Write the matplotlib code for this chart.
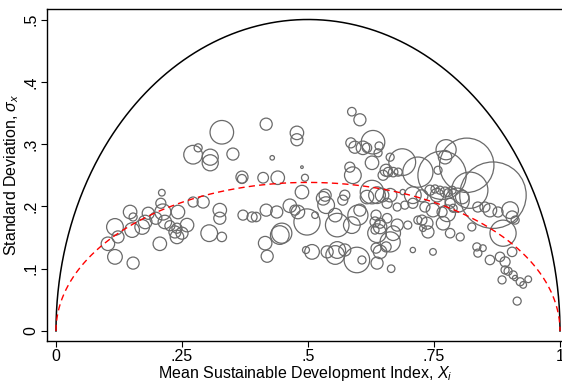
import numpy as np
import matplotlib
matplotlib.use("Agg")
import matplotlib.pyplot as plt

plt.rcParams['font.family'] = ['Liberation Sans', 'DejaVu Sans']
plt.rcParams['mathtext.fontset'] = 'custom'
plt.rcParams['mathtext.rm'] = 'Liberation Sans'
plt.rcParams['mathtext.it'] = 'Liberation Sans:italic'

# mean SDI, standard deviation and population weight for each unit
sdi = [0.103, 0.117, 0.123, 0.117, 0.153, 0.147, 0.153, 0.151, 0.171, 0.177,
       0.183, 0.198, 0.210, 0.208, 0.212, 0.216, 0.206, 0.236, 0.240, 0.240,
       0.242, 0.260, 0.250, 0.226, 0.272, 0.282, 0.306, 0.306, 0.329, 0.351,
       0.369, 0.369, 0.272, 0.292, 0.325, 0.325, 0.304, 0.329, 0.417, 0.478,
       0.478, 0.429, 0.488, 0.411, 0.440, 0.494, 0.488, 0.371, 0.389, 0.397,
       0.417, 0.438, 0.448, 0.444, 0.415, 0.419, 0.464, 0.480, 0.474, 0.498,
       0.496, 0.514, 0.536, 0.554, 0.558, 0.587, 0.599, 0.603, 0.508, 0.538,
       0.558, 0.554, 0.573, 0.597, 0.607, 0.637, 0.665, 0.534, 0.573, 0.569,
       0.530, 0.587, 0.603, 0.629, 0.585, 0.593, 0.609, 0.617, 0.641, 0.627,
       0.663, 0.687, 0.718, 0.583, 0.589, 0.655, 0.659, 0.669, 0.679, 0.649,
       0.627, 0.637, 0.647, 0.663, 0.688, 0.708, 0.726, 0.637, 0.643, 0.663,
       0.655, 0.669, 0.633, 0.657, 0.677, 0.698, 0.708, 0.718, 0.728, 0.657,
       0.677, 0.692, 0.708, 0.617, 0.639, 0.774, 0.772, 0.758, 0.766, 0.815,
       0.867, 0.887, 0.821, 0.796, 0.742, 0.752, 0.762, 0.772, 0.778, 0.786,
       0.756, 0.732, 0.748, 0.766, 0.782, 0.788, 0.806, 0.837, 0.861, 0.851,
       0.877, 0.905, 0.901, 0.911, 0.726, 0.736, 0.738, 0.768, 0.776, 0.782,
       0.802, 0.748, 0.825, 0.835, 0.837, 0.847, 0.861, 0.881, 0.905, 0.891,
       0.891, 0.897, 0.907, 0.885, 0.921, 0.911, 0.937, 0.927, 0.915, 0.635,
       0.643, 0.633, 0.643, 0.635]
sd = [0.140, 0.119, 0.151, 0.167, 0.109, 0.191, 0.183, 0.162, 0.167, 0.175,
      0.189, 0.181, 0.222, 0.205, 0.191, 0.175, 0.140, 0.159, 0.151, 0.165,
      0.191, 0.170, 0.157, 0.169, 0.283, 0.294, 0.279, 0.270, 0.319, 0.284,
      0.247, 0.244, 0.207, 0.207, 0.194, 0.181, 0.157, 0.151, 0.332, 0.318,
      0.307, 0.278, 0.263, 0.246, 0.246, 0.246, 0.223, 0.186, 0.183, 0.183,
      0.194, 0.191, 0.157, 0.154, 0.141, 0.120, 0.201, 0.191, 0.194, 0.175,
      0.130, 0.186, 0.202, 0.186, 0.170, 0.170, 0.186, 0.194, 0.127, 0.127,
      0.130, 0.122, 0.130, 0.114, 0.114, 0.109, 0.100, 0.218, 0.218, 0.210,
      0.213, 0.352, 0.339, 0.303, 0.302, 0.295, 0.294, 0.294, 0.297, 0.270,
      0.279, 0.271, 0.255, 0.263, 0.250, 0.258, 0.255, 0.255, 0.255, 0.250,
      0.223, 0.218, 0.218, 0.218, 0.223, 0.218, 0.217, 0.157, 0.167, 0.143,
      0.135, 0.157, 0.175, 0.181, 0.170, 0.170, 0.130, 0.178, 0.165, 0.205,
      0.199, 0.202, 0.205, 0.215, 0.286, 0.291, 0.279, 0.258, 0.250, 0.266,
      0.218, 0.157, 0.226, 0.210, 0.226, 0.228, 0.226, 0.223, 0.222, 0.226,
      0.218, 0.199, 0.194, 0.191, 0.205, 0.197, 0.215, 0.199, 0.194, 0.199,
      0.191, 0.183, 0.194, 0.178, 0.178, 0.173, 0.159, 0.173, 0.189, 0.157,
      0.151, 0.127, 0.167, 0.135, 0.125, 0.133, 0.114, 0.119, 0.127, 0.111,
      0.098, 0.096, 0.090, 0.082, 0.079, 0.085, 0.083, 0.074, 0.048, 0.186,
      0.173, 0.162, 0.127, 0.133]
pop_w = [45, 53, 36, 69, 36, 45, 16, 53, 53, 45,
         36, 36, 11, 25, 64, 45, 45, 36, 45, 25,
         45, 45, 36, 25, 86, 16, 64, 64, 137, 36,
         36, 20, 25, 36, 45, 36, 69, 22, 36, 45,
         36, 5, 1.7, 28, 45, 12, 45, 25, 25, 22,
         36, 36, 100, 86, 45, 36, 45, 45, 25, 169,
         12, 11, 69, 45, 137, 69, 100, 36, 53, 36,
         69, 86, 36, 161, 16, 36, 14, 36, 25, 25,
         45, 18, 36, 137, 25, 36, 45, 22, 16, 45,
         16, 177, 225, 25, 69, 36, 22, 22, 16, 25,
         137, 69, 45, 45, 7, 69, 36, 86, 45, 100,
         25, 53, 25, 22, 36, 16, 7, 16, 11, 25,
         16, 16, 25, 45, 16, 100, 45, 16, 576, 729,
         1089, 169, 324, 144, 25, 16, 16, 25, 16, 16,
         45, 25, 45, 25, 25, 16, 45, 25, 45, 25,
         25, 36, 69, 16, 25, 36, 36, 45, 69, 22,
         16, 11, 16, 16, 16, 11, 22, 22, 22, 25,
         16, 16, 16, 16, 16, 7, 11, 11, 16, 25,
         25, 16, 45, 25]

fit_k = 0.477   # scale of the fitted curve relative to the upper bound

xticks = [0, 0.25, 0.5, 0.75, 1]
xticklabels = ['0', '.25', '.5', '.75', '1']
yticks = [0, 0.1, 0.2, 0.3, 0.4, 0.5]
yticklabels = ['0', '.1', '.2', '.3', '.4', '.5']

fig = plt.figure(figsize=(5.62, 3.83), dpi=100)
ax = fig.add_axes([47 / 562, 1 - 341 / 383, 517 / 562, 332 / 383])

ax.scatter(sdi, sd, s=np.array(pop_w) * 2.1, facecolors='none',
           edgecolors='#6a6a6a', linewidths=0.9, zorder=2)

# upper bound sqrt(x(1-x)), sampled densely near the ends
t = np.linspace(0, np.pi, 600)
xc = (1 - np.cos(t)) / 2
bound = np.sqrt(xc * (1 - xc))
ax.plot(xc, bound, color='black', lw=1.1, zorder=3)
ax.plot(xc, fit_k * bound, color='red', lw=1.0, dashes=(4.5, 3), zorder=3)

ax.set_xlim(-9 / 504, 508 / 504)
ax.set_ylim(-10 / 623, 322 / 623)
ax.set_xticks(xticks)
ax.set_xticklabels(xticklabels)
ax.set_yticks(yticks)
ax.set_yticklabels(yticklabels, rotation=90, va='center')
ax.tick_params(direction='out', length=4, width=0.8, labelsize=11.5, pad=2)
for sp in ax.spines.values():
    sp.set_linewidth(1.0)

ax.set_xlabel(r'Mean Sustainable Development Index, $X_i$', fontsize=11.5, labelpad=0)
ax.set_ylabel(r'Standard Deviation, $\sigma_x$', fontsize=11.5, labelpad=2)

fig.savefig('out.png', dpi=100)
